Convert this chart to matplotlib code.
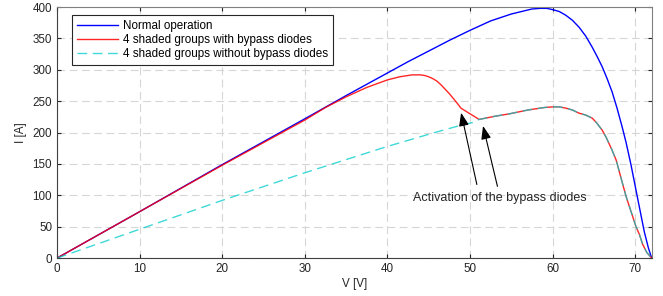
import matplotlib.pyplot as plt
import numpy as np

plt.rcParams['font.family'] = ['Liberation Sans', 'DejaVu Sans']

# Normal operation (blue)
v_normal = [0, 10, 20, 30, 35, 40, 42.5, 45, 47.5, 50, 52.5, 55, 57.5, 58.5, 59.3, 60, 60.8,
            61.6, 62.4, 63.2, 64, 64.8, 65.4, 66, 66.6, 67.2, 67.8, 68.4, 68.9, 69.5, 70.1,
            70.6, 71.1, 71.6, 72]
i_normal = [0, 74, 149, 222, 259, 295, 313, 330, 347, 363, 378, 389, 397, 398, 398, 396, 393,
            387, 379, 368, 354, 336, 321, 305, 286, 265, 239, 210, 184, 148, 108,
            75, 42, 16, 0]

# shaded part common to both shaded curves
v_tail = [51.1, 53, 54.8, 57, 59, 60, 60.8, 61.6, 62.4, 63.2, 64, 64.8, 65.3, 66, 66.5, 67.2,
          67.7, 68.4, 68.9, 69.3, 69.7, 70.1, 70.5, 70.9, 71.4, 72]
i_tail = [221, 226, 230, 236, 240, 241, 241, 239, 236, 231, 228, 223, 216, 204, 192, 172,
          156, 122, 98, 82, 66, 50, 38, 22, 9, 0]

# with bypass diodes (red), before the second diode kicks in
v_bypass = [0, 10, 20, 30, 32.5, 35, 37.5, 40, 41.5, 43, 44, 44.5, 45, 45.5, 46, 46.5, 47,
            47.5, 48, 48.5, 48.9]
i_bypass = [0, 74, 148, 220, 240, 257, 272, 284, 289, 292, 292, 291, 289, 286, 282, 276, 269,
            262, 254, 246, 239]

# without bypass diodes (cyan dashed)
v_nobypass = [0, 10, 20, 30, 40, 45.7, 48.7, 50.3]
i_nobypass = [0, 46, 92, 136, 178, 200, 211, 216]

fig = plt.figure(figsize=(6.63, 2.96), dpi=100)
ax = fig.add_axes([0.086, 0.128, 0.897, 0.848])

ax.plot(v_normal, i_normal, color='#0000ff', lw=1.0, label='Normal operation')
ax.plot(v_bypass + v_tail, i_bypass + i_tail, color='#ff0000', lw=1.0, alpha=0.85,
        label='4 shaded groups with bypass diodes')
ax.plot(v_nobypass + v_tail, i_nobypass + i_tail, color=(0, 0.8, 0.8), lw=1.0, alpha=0.75,
        ls=(0, (7, 4)), label='4 shaded groups without bypass diodes')

ax.set_xlim(0, 72)
ax.set_ylim(0, 400)
ax.set_xticks(np.arange(0, 71, 10))
ax.set_yticks(np.arange(0, 401, 50))
ax.grid(True, color='#d6d6d6', ls=(0, (7, 4)), lw=0.8)
ax.tick_params(direction='in', top=True, right=True, labelsize=8.4, colors='#262626', length=3)
for s in ['left', 'bottom']:
    ax.spines[s].set_color('#404040')
for s in ['top', 'right']:
    ax.spines[s].set_color('#808080')
ax.set_xlabel('V [V]', fontsize=8.4, color='#262626', labelpad=2)
ax.set_ylabel('I [A]', fontsize=8.4, color='#262626', labelpad=4)

leg = ax.legend(loc='upper left', bbox_to_anchor=(0.025, 0.968), fontsize=8.4, handlelength=3.5,
                handletextpad=0.4, labelspacing=0.15, borderaxespad=0, fancybox=False,
                framealpha=1, edgecolor='#262626', borderpad=0.45)
leg.get_frame().set_linewidth(0.8)

ax.annotate('', xy=(48.85, 236), xytext=(50.9, 113),
            arrowprops=dict(arrowstyle='-|>,head_length=0.8,head_width=0.3', color='black', lw=0.8))
ax.annotate('', xy=(51.5, 215), xytext=(53.4, 110),
            arrowprops=dict(arrowstyle='-|>,head_length=0.8,head_width=0.3', color='black', lw=0.8))
ax.text(53.6, 96, 'Activation of the bypass diodes', fontsize=9, color='#262626',
        ha='center', va='center')

fig.savefig('out.png', dpi=100)
